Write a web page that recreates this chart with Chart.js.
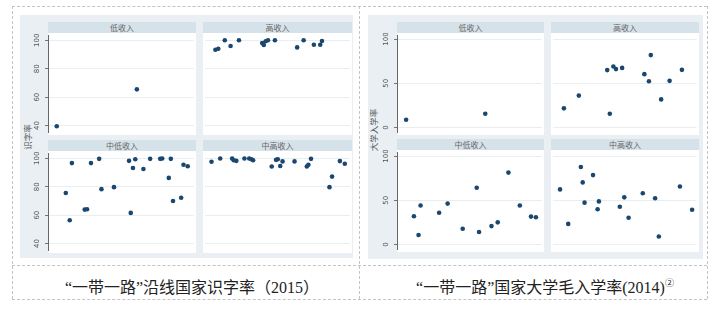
<!DOCTYPE html>
<html>
<head>
<meta charset="utf-8">
<script src="https://cdn.jsdelivr.net/npm/chart.js@4.4.1/dist/chart.umd.min.js"></script>
<style>
  html, body { margin: 0; padding: 0; background: #ffffff; }
  #root { position: relative; width: 720px; height: 310px; overflow: hidden; background: #fff; }
  .abs { position: absolute; }
  .dh { position: absolute; height: 0; border-top: 1px dashed #c4c4c4; }
  .dv { position: absolute; width: 0; border-left: 1px dashed #c4c4c4; }
  .panel { position: absolute; background: #e9eff3; }
  .strip { position: absolute; background: #d6e2e9; color: #666; font: 8px "Noto Sans CJK SC", sans-serif; text-align: center; }
  .ytitle { position: absolute; color: #555; font: 8.5px "Noto Sans CJK SC", sans-serif; white-space: nowrap; transform: translate(-50%, -50%) rotate(-90deg); }
  .cap { position: absolute; color: #222; font: 16px "Liberation Serif", "Noto Sans CJK SC", serif; white-space: nowrap; transform: translateX(-50%); }
  .cap sup { font-size: 9px; vertical-align: 7px; }
  .wrap { position: absolute; }
</style>
</head>
<body>
<div id="root">
  <div class="dh" style="left:12px; top:6px; width:695px;"></div>
  <div class="dh" style="left:12px; top:265px; width:695px;"></div>
  <div class="dh" style="left:12px; top:299px; width:695px;"></div>
  <div class="dv" style="left:12px; top:6px; height:293px;"></div>
  <div class="dv" style="left:359px; top:6px; height:293px;"></div>
  <div class="dv" style="left:707px; top:6px; height:293px;"></div>

  <div class="panel" style="left:20px; top:15px; width:333px; height:243px;"></div>
  <div class="panel" style="left:368px; top:15px; width:335px; height:244px;"></div>

  <div class="ytitle" style="left:27px; top:137px;">识字率</div>
  <div class="ytitle" style="left:373px; top:130px;">大学入学率</div>

  <div class="cap" style="left:192px; top:274px;">“一带一路”沿线国家识字率（2015）</div>
  <div class="cap" style="left:545px; top:274px;">“一带一路”国家大学毛入学率(2014)<sup>②</sup></div>
</div>
<script>
// ---------- data ----------
const facetLabels = ["低收入", "高收入", "中低收入", "中高收入"];

const litTicks = [40, 60, 80, 100];
const enrTicks = [0, 50, 100];

// 识字率 (2015)
const litLowX  = [6, 61];
const litLowY  = [39.5, 65.5];
const litHighX = [7, 9, 13.5, 17.5, 23.3, 39.4, 40.5, 41.8, 43.4, 48.2, 63.6, 68.1, 75.2, 79.6, 80.8];
const litHighY = [93.3, 94, 100, 96, 100, 98, 96.7, 99.3, 100, 100, 95, 100, 96.9, 96.9, 99.5];
const litLMX   = [12.2, 14.9, 16.4, 25.2, 26.8, 29.5, 35.1, 36.7, 45.3, 55.6, 56.8, 58.3, 59.9, 65.5, 70.1, 77, 78.4, 82.9, 84.3, 85.8, 91.4, 93, 95.9];
const litLMY   = [75.6, 56.4, 96.6, 63.9, 64.1, 96.6, 99.6, 78.3, 79.7, 98.2, 61.6, 93.2, 99.3, 92.5, 99.6, 99.6, 99.8, 86.2, 99.6, 70, 72.2, 95.5, 94.4];
const litUMX   = [4.3, 10.3, 18.6, 19.7, 21.5, 27.1, 30.4, 32, 33.1, 46, 49, 50.2, 51.9, 53.5, 61.8, 70.3, 71.4, 73.2, 86, 87.8, 93.2, 96.6];
const litUMY   = [97.6, 99.8, 99.8, 98.6, 98.2, 99.8, 99.8, 99.3, 98.6, 94.2, 98.9, 99.3, 94.6, 97.8, 97.8, 94.2, 95.5, 99.6, 79.7, 87.1, 98, 96.2];

// 大学毛入学率 (2014)
const enrLowX  = [6.3, 61];
const enrLowY  = [8.7, 15.5];
const enrHighX = [7.4, 17.8, 37.6, 39.4, 41.9, 43.7, 48, 63.5, 66.7, 68, 75.2, 81.1, 89.7];
const enrHighY = [21.6, 36, 64.9, 15.5, 68.9, 66, 67.4, 60.3, 52.3, 81.9, 31.7, 52.7, 65.2];
const enrLMX   = [11.7, 14.9, 16.3, 29.1, 35, 45.4, 55.1, 56.7, 65.3, 69.6, 77, 84.9, 92.6, 96];
const enrLMY   = [31.8, 10.7, 44, 35.8, 46.2, 17.8, 64.1, 14, 20.7, 25, 81.3, 44, 31.5, 30.8];
const enrUMX   = [4.7, 10.4, 19.2, 20.5, 21.8, 27.7, 30.9, 31.8, 46.4, 49.5, 52.5, 62.4, 71, 73.6, 88.3, 96.8];
const enrUMY   = [62.3, 23.2, 87.7, 70.2, 47.3, 78.5, 39.8, 48.7, 42.6, 53.3, 30.1, 58, 52.2, 8.9, 65.6, 39.3];

// ---------- layout ----------
const root = document.getElementById('root');
const AXW = 18;
const STRIP_H = 11;

function addStrip(left, top, width, text) {
  const d = document.createElement('div');
  d.className = 'strip';
  d.style.left = left + 'px'; d.style.top = top + 'px';
  d.style.width = width + 'px'; d.style.height = STRIP_H + 'px';
  d.style.lineHeight = STRIP_H + 'px';
  d.textContent = text;
  root.appendChild(d);
}

function facet(plotL, plotT, plotW, plotH, xs, ys, ticks, yMin, yMax, withAxis) {
  const w = document.createElement('div');
  w.className = 'wrap';
  const left = withAxis ? plotL - AXW : plotL;
  const width = withAxis ? plotW + AXW : plotW;
  w.style.left = left + 'px'; w.style.top = plotT + 'px';
  w.style.width = width + 'px'; w.style.height = plotH + 'px';
  const bg = document.createElement('div');
  bg.className = 'abs';
  bg.style.left = (withAxis ? AXW : 0) + 'px'; bg.style.top = '0px';
  bg.style.width = plotW + 'px'; bg.style.height = plotH + 'px';
  bg.style.background = '#ffffff';
  w.appendChild(bg);
  const c = document.createElement('canvas');
  c.style.position = 'absolute'; c.style.left = '0px'; c.style.top = '0px';
  w.appendChild(c);
  root.appendChild(w);
  const pts = xs.map((x, i) => ({ x: x, y: ys[i] }));
  new Chart(c, {
    type: 'scatter',
    data: { datasets: [{ data: pts, backgroundColor: '#1a476f', borderWidth: 0, pointRadius: 2.3, pointHoverRadius: 2.3 }] },
    options: {
      responsive: true, maintainAspectRatio: false, animation: false,
      layout: { padding: 0 },
      plugins: { legend: { display: false }, tooltip: { enabled: false } },
      events: [],
      scales: {
        x: { type: 'linear', min: 0, max: 100, display: false },
        y: {
          type: 'linear', min: yMin, max: yMax,
          afterBuildTicks: (s) => { s.ticks = ticks.map(v => ({ value: v })); },
          afterFit: (s) => { s.width = withAxis ? AXW : 0; s.paddingTop = 0; s.paddingBottom = 0; },
          grid: { color: '#e8eff2', lineWidth: 1, drawTicks: withAxis, tickLength: 3, tickColor: '#777' },
          border: { display: withAxis, color: '#666', width: 1 },
          ticks: {
            display: withAxis, minRotation: 90, maxRotation: 90, crossAlign: 'center', padding: 1,
            color: '#555', font: { size: 7, family: 'DejaVu Sans' }
          }
        }
      }
    }
  });
}

// Left panel (literacy)
const Lc1 = [48, 148], Lc2 = [203, 149];
const Lr1 = [33, 102], Lr2 = [151, 102];
addStrip(Lc1[0], Lr1[0] - STRIP_H, Lc1[1], facetLabels[0]);
addStrip(Lc2[0], Lr1[0] - STRIP_H, Lc2[1], facetLabels[1]);
addStrip(Lc1[0], Lr2[0] - STRIP_H, Lc1[1], facetLabels[2]);
addStrip(Lc2[0], Lr2[0] - STRIP_H, Lc2[1], facetLabels[3]);
facet(Lc1[0], Lr1[0], Lc1[1], Lr1[1], litLowX, litLowY, litTicks, 35, 103.5, true);
facet(Lc2[0], Lr1[0], Lc2[1], Lr1[1], litHighX, litHighY, litTicks, 35, 103.5, false);
facet(Lc1[0], Lr2[0], Lc1[1], Lr2[1], litLMX, litLMY, litTicks, 35, 103.5, true);
facet(Lc2[0], Lr2[0], Lc2[1], Lr2[1], litUMX, litUMY, litTicks, 35, 103.5, false);

// Right panel (enrolment)
const Rc1 = [397, 147], Rc2 = [551, 148];
const Rr1 = [33, 102], Rr2 = [150, 102];
addStrip(Rc1[0], Rr1[0] - STRIP_H, Rc1[1], facetLabels[0]);
addStrip(Rc2[0], Rr1[0] - STRIP_H, Rc2[1], facetLabels[1]);
addStrip(Rc1[0], Rr2[0] - STRIP_H, Rc1[1], facetLabels[2]);
addStrip(Rc2[0], Rr2[0] - STRIP_H, Rc2[1], facetLabels[3]);
facet(Rc1[0], Rr1[0], Rc1[1], Rr1[1], enrLowX, enrLowY, enrTicks, -6, 104.3, true);
facet(Rc2[0], Rr1[0], Rc2[1], Rr1[1], enrHighX, enrHighY, enrTicks, -6, 104.3, false);
facet(Rc1[0], Rr2[0], Rc1[1], Rr2[1], enrLMX, enrLMY, enrTicks, -6, 104.3, true);
facet(Rc2[0], Rr2[0], Rc2[1], Rr2[1], enrUMX, enrUMY, enrTicks, -6, 104.3, false);
</script>
</body>
</html>
